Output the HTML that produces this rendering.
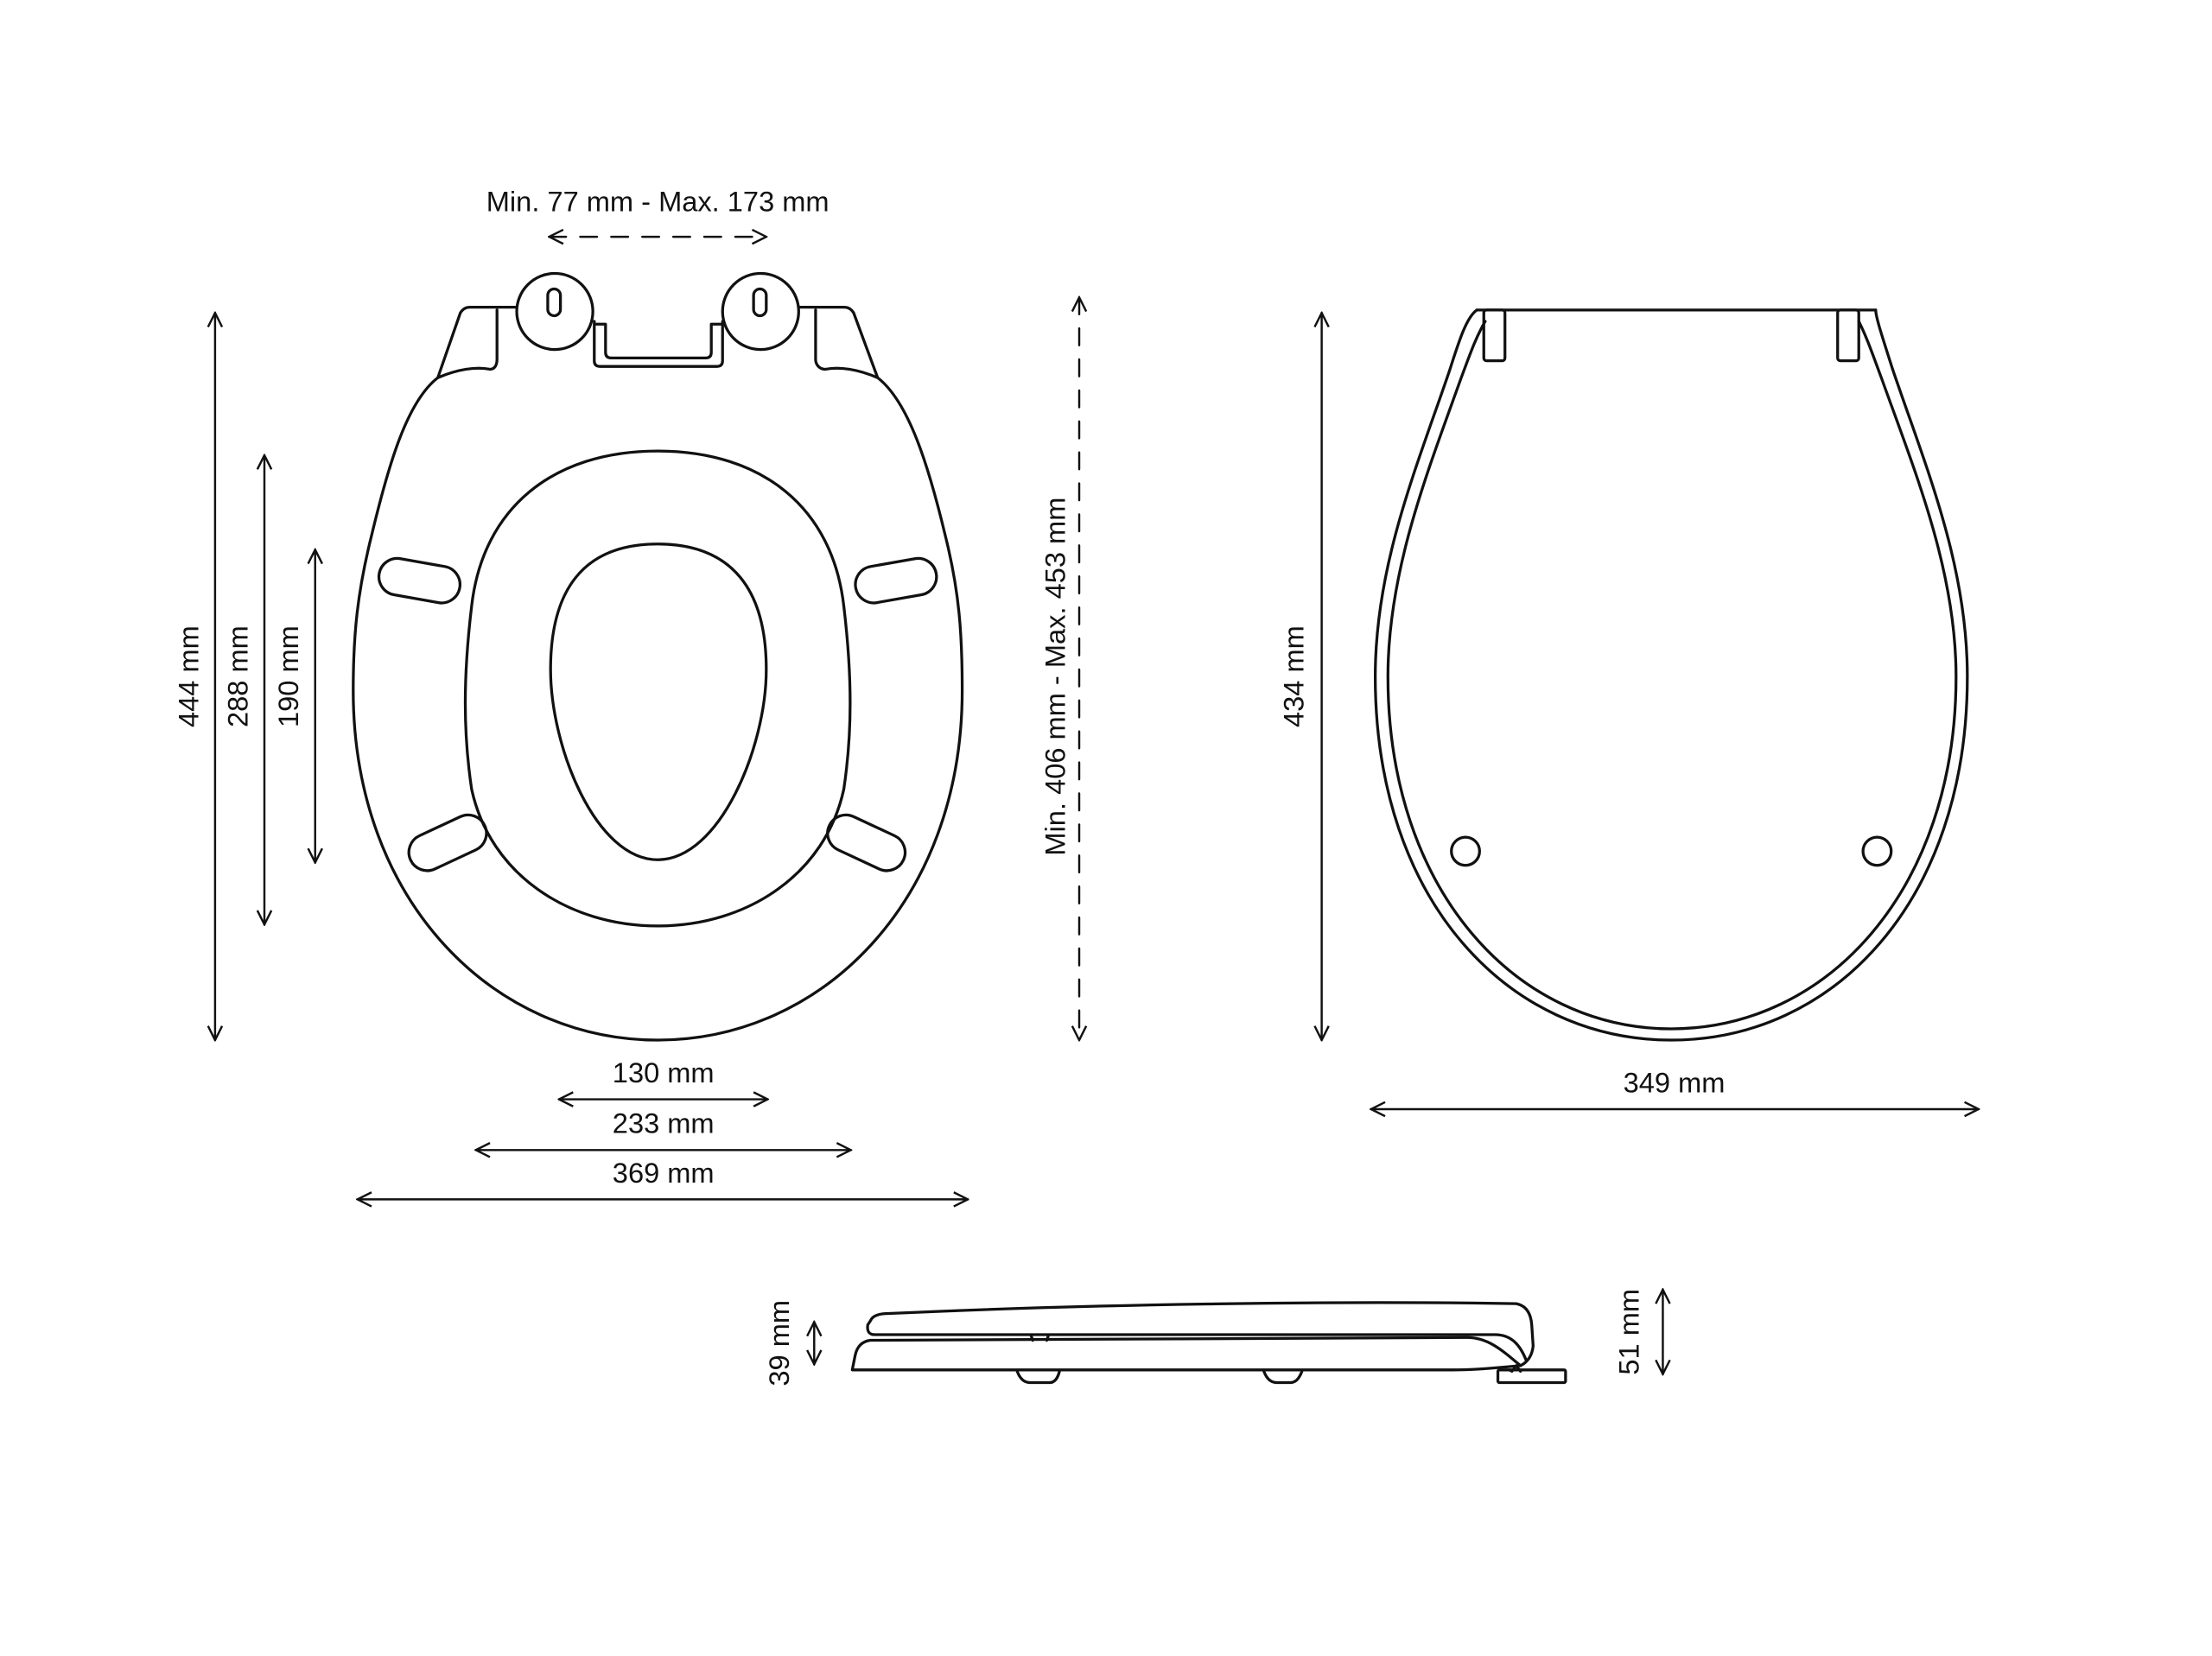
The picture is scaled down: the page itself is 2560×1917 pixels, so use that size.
<!DOCTYPE html>
<html><head><meta charset="utf-8"><style>
html,body{margin:0;padding:0;background:#fff}
svg{display:block}
text{font-family:"Liberation Sans",sans-serif;font-size:20px;fill:#111}
</style></head><body>
<svg width="2560" height="1917" viewBox="0 0 1568 1175" xmlns="http://www.w3.org/2000/svg">
<defs>
<marker id="a" viewBox="0 0 12 12" refX="11" refY="6" markerWidth="12" markerHeight="12" markerUnits="userSpaceOnUse" orient="auto-start-reverse">
<path d="M1,1 L11,6 L1,11" fill="none" stroke="#111" stroke-width="1.5"/>
</marker>
</defs>
<rect width="1568" height="1175" fill="#fff"/>
<g fill="none" stroke="#111" stroke-width="2" stroke-linejoin="round" stroke-linecap="round">
<!-- FRONT VIEW -->
<path d="M310,268 C288,285 275,330 263,380 C253,420 250,450 250,490 C250,640 350,738 466,738 C582,738 682,640 682,490 C682,450 680,420 670,380 C658,330 644,285 622,268 C608,262 595,260 585,262 C580,262 578,258 578,255 L578,220 M622,268 L605,222 C603,219 601,218 598,218 L566,218"/>
<path d="M310,268 C324,262 337,260 347,262 C351,262 352,258 352,255 L352,220 M310,268 L326,222 C328,219 330,218 333,218 L366,218"/>
<path d="M466,320 C540,320 590,360 598,430 C604,480 604,520 598,560 C585,620 530,657 466,657 C402,657 347,620 334,560 C328,520 328,480 334,430 C342,360 392,320 466,320 Z"/>
<path d="M466,386 C520,386 543,420 543,475 C543,530 510,610 466,610 C422,610 390,530 390,475 C390,420 412,386 466,386 Z"/>
<rect x="268" y="399" width="58" height="26" rx="13" transform="rotate(10 297 412)"/>
<rect x="606" y="399" width="58" height="26" rx="13" transform="rotate(-10 635 412)"/>
<rect x="288" y="585" width="58" height="26" rx="13" transform="rotate(-25 317 598)"/>
<rect x="585" y="585" width="58" height="26" rx="13" transform="rotate(25 614 598)"/>
<ellipse cx="393" cy="221" rx="27" ry="27"/>
<ellipse cx="539" cy="221" rx="27" ry="27"/>
<rect x="388" y="205" width="9" height="19" rx="4.5"/>
<rect x="534" y="205" width="9" height="19" rx="4.5"/>
<path d="M421,228 L421,256 Q421,260 425,260 L508,260 Q512,260 512,256 L512,228 M421,230 L429,230 L429,250 Q429,254 433,254 L500,254 Q504,254 504,250 L504,230 L512,230"/>
<!-- RIGHT VIEW -->
<path d="M1047,220 L1330,220"/>
<path d="M1047,220 C1040,225 1035,240 1028,262 C1005,330 975,400 975,480 C975,640 1070,738 1185,738 C1300,738 1395,640 1395,480 C1395,400 1365,330 1342,262 C1335,240 1330,225 1330,220"/>
<path d="M1053,228 C1046,240 1042,252 1036,268 C1012,335 984,405 984,480 C984,632 1075,730 1185,730 C1295,730 1387,632 1387,480 C1387,405 1358,335 1334,268 C1328,252 1324,240 1318,228"/>
<rect x="1052" y="220" width="15" height="36" rx="2"/>
<rect x="1303" y="220" width="15" height="36" rx="2"/>
<circle cx="1039" cy="604" r="10"/>
<circle cx="1331" cy="604" r="10"/>
<!-- SIDE VIEW -->
<path d="M620,947 L1060,947 C1072,947 1078,955 1082,965 M620,947 Q614,947 615,940 L617,937 Q619,932 630,932 C780,925 950,923 1075,925 Q1085,927 1086,940 L1087,955 Q1086,965 1078,969"/>
<path d="M617,951 L1040,949 C1055,949 1065,958 1078,969 M617,951 Q608,952 606,962 L604,972 L1030,972 C1050,972 1065,970 1078,969"/>
<path d="M1075,969 L1072,973 L1070,972 M1075,969 L1078,973"/>
<rect x="1062" y="972" width="48" height="9" rx="1"/>
<path d="M721,973 Q724,981 730,981 L744,981 Q749,981 751,973"/>
<path d="M896,973 Q899,981 905,981 L915,981 Q920,981 923,973"/>
<path d="M731,948 L732,951 M743,948 L742,951"/>
<!-- DIMENSIONS -->
<g stroke-width="1.5">
<line x1="152" y1="222" x2="152" y2="738" marker-start="url(#a)" marker-end="url(#a)"/>
<line x1="187" y1="323" x2="187" y2="656" marker-start="url(#a)" marker-end="url(#a)"/>
<line x1="223" y1="390" x2="223" y2="612" marker-start="url(#a)" marker-end="url(#a)"/>
<line x1="765" y1="211" x2="765" y2="738" stroke-dasharray="12 10" marker-start="url(#a)" marker-end="url(#a)"/>
<line x1="937" y1="222" x2="937" y2="738" marker-start="url(#a)" marker-end="url(#a)"/>
<line x1="396" y1="780" x2="544" y2="780" marker-start="url(#a)" marker-end="url(#a)"/>
<line x1="337" y1="816" x2="603" y2="816" marker-start="url(#a)" marker-end="url(#a)"/>
<line x1="253" y1="851" x2="686" y2="851" marker-start="url(#a)" marker-end="url(#a)"/>
<line x1="972" y1="787" x2="1403" y2="787" marker-start="url(#a)" marker-end="url(#a)"/>
<line x1="389" y1="168" x2="543" y2="168" stroke-dasharray="12 10" marker-start="url(#a)" marker-end="url(#a)"/>
<line x1="577" y1="938" x2="577" y2="968" marker-start="url(#a)" marker-end="url(#a)"/>
<line x1="1179" y1="915" x2="1179" y2="975" marker-start="url(#a)" marker-end="url(#a)"/>
</g>
</g>
<text x="466" y="150" text-anchor="middle">Min. 77 mm - Max. 173 mm</text>
<text x="470" y="768" text-anchor="middle">130 mm</text>
<text x="470" y="804" text-anchor="middle">233 mm</text>
<text x="470" y="839" text-anchor="middle">369 mm</text>
<text x="1187" y="775" text-anchor="middle">349 mm</text>
<text transform="translate(140 480) rotate(-90)" text-anchor="middle">444 mm</text>
<text transform="translate(175 480) rotate(-90)" text-anchor="middle">288 mm</text>
<text transform="translate(211 480) rotate(-90)" text-anchor="middle">190 mm</text>
<text transform="translate(755 480) rotate(-90)" text-anchor="middle">Min. 406 mm - Max. 453 mm</text>
<text transform="translate(924 480) rotate(-90)" text-anchor="middle">434 mm</text>
<text transform="translate(559 953) rotate(-90)" text-anchor="middle">39 mm</text>
<text transform="translate(1162 945) rotate(-90)" text-anchor="middle">51 mm</text>
</svg>
</body></html>
